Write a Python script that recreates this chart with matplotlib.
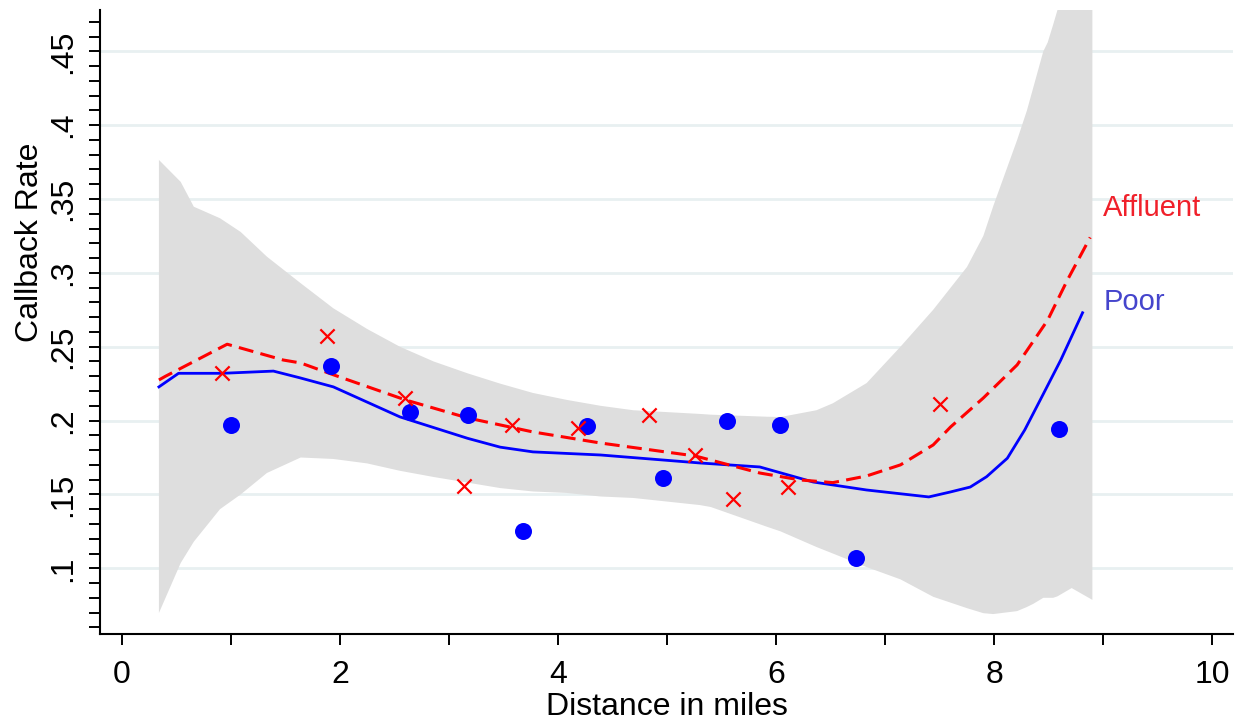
import numpy as np
import matplotlib
matplotlib.use("Agg")
import matplotlib.pyplot as plt
import matplotlib.ticker as ticker

plt.rcParams["font.family"] = ["Liberation Sans", "DejaVu Sans"]

# observed binned callback rates
poor_x = [1.00, 1.92, 2.64, 3.17, 3.68, 4.27, 4.96, 5.55, 6.04, 6.73, 8.59]
poor_y = [0.197, 0.237, 0.206, 0.204, 0.125, 0.196, 0.161, 0.200, 0.197, 0.107, 0.194]
aff_x = [0.92, 1.88, 2.60, 3.14, 3.58, 4.18, 4.83, 5.26, 5.60, 6.11, 7.50]
aff_y = [0.232, 0.257, 0.215, 0.156, 0.197, 0.195, 0.204, 0.177, 0.147, 0.155, 0.211]

# smoothed fits
poor_fit_x = [0.34, 0.52, 0.92, 1.39, 1.63, 1.94, 2.55, 3.17, 3.47, 3.77, 4.39, 5.30,
              5.85, 6.34, 6.83, 7.40, 7.60, 7.78, 7.93, 8.12, 8.28, 8.45, 8.61, 8.81]
poor_fit_y = [0.2228, 0.232, 0.232, 0.2335, 0.229, 0.2228, 0.2025, 0.188, 0.182, 0.1788,
              0.1767, 0.1713, 0.1686, 0.1584, 0.153, 0.1483, 0.1517, 0.155, 0.162, 0.1745,
              0.1937, 0.218, 0.241, 0.273]
aff_fit_x = [0.34, 0.40, 0.966, 1.48, 1.64, 1.94, 2.60, 3.17, 3.77, 4.39, 5.26, 5.85,
             6.22, 6.52, 6.83, 7.14, 7.44, 7.60, 7.90, 8.21, 8.49, 8.67, 8.88]
aff_fit_y = [0.2275, 0.230, 0.2517, 0.241, 0.239, 0.231, 0.214, 0.2018, 0.1923, 0.1848,
             0.176, 0.1645, 0.1598, 0.158, 0.1625, 0.170, 0.1835, 0.1957, 0.2153, 0.2377,
             0.268, 0.295, 0.324]

# confidence band
band_x = [0.34, 0.54, 0.66, 0.90, 1.09, 1.33, 1.64, 1.94, 2.25, 2.55, 2.86, 3.17, 3.47,
          3.77, 4.08, 4.39, 4.69, 5.30, 5.40, 5.92, 6.04, 6.37, 6.52, 6.83, 7.14, 7.44,
          7.75, 7.90, 7.99, 8.21, 8.30, 8.36, 8.45, 8.49, 8.54, 8.58, 8.71, 8.90]
band_lo = [0.0697, 0.1036, 0.118, 0.140, 0.150, 0.1645, 0.1750, 0.174, 0.171, 0.166,
           0.1618, 0.158, 0.1543, 0.152, 0.151, 0.1486, 0.1476, 0.1428, 0.1415, 0.128,
           0.125, 0.1144, 0.110, 0.1008, 0.0925, 0.0807, 0.073, 0.0696, 0.069, 0.071,
           0.0738, 0.076, 0.080, 0.080, 0.080, 0.081, 0.0866, 0.0786]
band_hi = [0.3765, 0.3616, 0.3448, 0.337, 0.3277, 0.311, 0.293, 0.276, 0.262, 0.250,
           0.240, 0.232, 0.225, 0.2187, 0.214, 0.210, 0.207, 0.2045, 0.204, 0.2026,
           0.2024, 0.207, 0.2117, 0.2254, 0.250, 0.275, 0.304, 0.325, 0.345, 0.390,
           0.410, 0.426, 0.450, 0.456, 0.468, 0.478, 0.53, 0.60]

y_ticks = [0.1, 0.15, 0.2, 0.25, 0.3, 0.35, 0.4, 0.45]
y_tick_labels = [".1", ".15", ".2", ".25", ".3", ".35", ".4", ".45"]
x_ticks = [0, 2, 4, 6, 8, 10]

fig = plt.figure(figsize=(12.41, 7.23), dpi=100)
ax = fig.add_axes([0.0806, 0.1231, 0.9130, 0.8631])

ax.fill_between(band_x, band_lo, band_hi, color="#dedede", linewidth=0, zorder=1)
ax.plot(poor_fit_x, poor_fit_y, color="#0000ff", linewidth=2.0, zorder=3)
ax.plot(aff_fit_x, aff_fit_y, color="#ff0000", linewidth=2.2,
        dashes=(4.9, 2.4), zorder=3)
ax.scatter(poor_x, poor_y, s=150, color="#0000ff", linewidths=0, zorder=4)
ax.scatter(aff_x, aff_y, s=105, marker="x", color="#ff0000", linewidths=1.6, zorder=4)

ax.text(9.0, 0.344, "Affluent", color="#f0202a", fontsize=21, va="center", ha="left")
ax.text(9.0, 0.280, "Poor", color="#4545cc", fontsize=21, va="center", ha="left")

ax.set_xlim(-0.2, 10.19)
ax.set_ylim(0.0555, 0.478)

ax.set_yticks(y_ticks)
ax.set_yticklabels(y_tick_labels, rotation=90, va="center")
ax.yaxis.set_minor_locator(ticker.MultipleLocator(0.01))
ax.set_xticks(x_ticks)
ax.xaxis.set_minor_locator(ticker.MultipleLocator(1))

ax.tick_params(axis="both", which="both", length=8, width=1.4, direction="out",
               labelsize=23, color="black")
ax.tick_params(axis="y", which="major", pad=8)
ax.tick_params(axis="x", which="major", pad=11)

for side in ["top", "right"]:
    ax.spines[side].set_visible(False)
for side in ["left", "bottom"]:
    ax.spines[side].set_linewidth(1.5)

ax.yaxis.grid(True, color="#e8f0f1", linewidth=2)
ax.set_axisbelow(True)

ax.set_xlabel("Distance in miles", fontsize=23, labelpad=1)
ax.set_ylabel("Callback Rate", fontsize=23)
ax.yaxis.set_label_coords(-0.049, 0.628)

plt.savefig("out.png", dpi=100)
